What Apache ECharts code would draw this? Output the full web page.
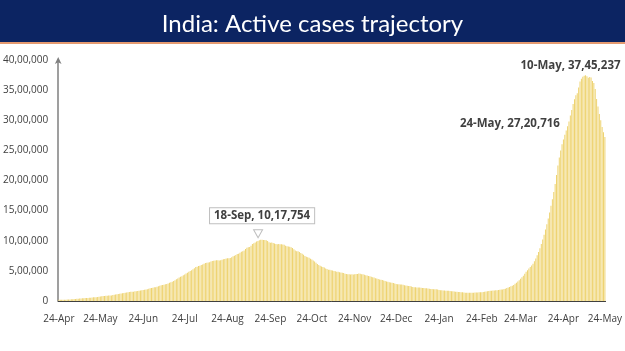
<!DOCTYPE html>
<html><head><meta charset="utf-8">
<script src="https://cdn.jsdelivr.net/npm/echarts@6/dist/echarts.min.js"></script>
<style>html,body{margin:0;padding:0;background:#fff}#c{width:625px;height:351px}</style>
</head><body><div id="c"></div>
<script>
// Active cases in thousands, daily from 24-Apr-2020 to 24-May-2021
const startDate = '2020-04-24';
const apr2020 = [19, 20, 21, 21, 21, 22, 23];
const may2020 = [24, 26, 28, 30, 32, 34, 36, 38, 40, 42, 44, 46, 48, 49, 51, 53, 56, 59, 61, 61, 64, 66, 70, 74, 77, 81, 83, 86, 89, 90, 92];
const jun2020 = [93, 98, 102, 107, 110, 116, 120, 125, 130, 134, 137, 142, 146, 149, 153, 153, 155, 160, 163, 168, 170, 174, 178, 183, 187, 190, 197, 203, 210, 215];
const jul2020 = [220, 227, 227, 235, 245, 253, 260, 265, 270, 277, 283, 292, 302, 312, 320, 331, 343, 359, 373, 391, 403, 411, 426, 440, 456, 468, 485, 497, 509, 528, 545];
const aug2020 = [565, 568, 579, 586, 596, 607, 619, 629, 635, 640, 644, 654, 662, 668, 673, 677, 677, 673, 677, 686, 692, 697, 704, 708, 711, 715, 726, 742, 752, 765, 781];
const sep2020 = [786, 801, 816, 826, 839, 862, 884, 891, 897, 919, 944, 958, 970, 987, 996, 1010, 1016, 1017.754, 1011, 1014, 1009, 997, 976, 966, 970, 961, 956, 948, 940, 946];
const oct2020 = [942, 941, 938, 934, 919, 908, 904, 899, 894, 878, 860, 838, 826, 826, 812, 795, 783, 767, 748, 735, 726, 716, 703, 690, 672, 655, 635, 615, 598, 585, 572];
const nov2020 = [565, 557, 541, 533, 520, 517, 509, 506, 500, 494, 486, 484, 479, 474, 470, 466, 454, 449, 446, 443, 441, 443, 440, 444, 447, 450, 455, 453, 446, 442];
const dec2020 = [435, 428, 422, 416, 409, 404, 396, 390, 378, 372, 365, 358, 352, 347, 339, 333, 323, 318, 313, 308, 303, 297, 289, 281, 278, 276, 275, 272, 268, 262, 257];
const jan2021 = [254, 250, 247, 240, 233, 229, 228, 226, 224, 222, 220, 217, 215, 213, 212, 208, 205, 201, 198, 197, 195, 193, 189, 184, 179, 178, 176, 173, 171, 170, 169];
const feb2021 = [168, 162, 160, 158, 155, 152, 151, 148, 146, 144, 143, 137, 136, 137, 138, 138, 138, 139, 140, 141, 143, 145, 146, 147, 150, 153, 157, 162];
const mar2021 = [168, 170, 172, 174, 176, 177, 180, 184, 187, 189, 192, 198, 205, 215, 223, 234, 244, 253, 267, 285, 304, 323, 345, 368, 395, 421, 453, 484, 510, 540, 565];
const apr2021 = [590, 620, 660, 705, 760, 815, 875, 945, 1020, 1100, 1185, 1275, 1370, 1470, 1580, 1690, 1810, 1940, 2090, 2250, 2380, 2500, 2600, 2682, 2760, 2830, 2900, 2980, 3080, 3170];
const may2021 = [3268, 3349, 3413, 3447, 3545, 3645, 3690, 3723, 3737, 3745.237, 3729, 3704, 3718, 3710, 3653, 3618, 3519, 3353, 3229, 3102, 3000, 2890, 2800, 2720.716];

const tickDates = ['2020-04-24','2020-05-24','2020-06-24','2020-07-24','2020-08-24','2020-09-24','2020-10-24','2020-11-24','2020-12-24','2021-01-24','2021-02-24','2021-03-24','2021-04-24','2021-05-24'];
const tickLabels = ['24-Apr','24-May','24-Jun','24-Jul','24-Aug','24-Sep','24-Oct','24-Nov','24-Dec','24-Jan','24-Feb','24-Mar','24-Apr','24-May'];

const annDates = ['2020-09-18', '2021-05-10', '2021-05-24'];
const annValues = [1017754, 3745237, 2720716];
const annLabels = ['18-Sep', '10-May', '24-May'];

const yTicks = [0, 500000, 1000000, 1500000, 2000000, 2500000, 3000000, 3500000, 4000000];

// ---- build
const valuesK = [].concat(apr2020, may2020, jun2020, jul2020, aug2020, sep2020, oct2020, nov2020, dec2020, jan2021, feb2021, mar2021, apr2021, may2021);
const values = valuesK.map(v => Math.round(v * 1000));
const categories = [];
{
  const d0 = new Date(startDate + 'T00:00:00Z');
  for (let i = 0; i < values.length; i++) {
    const d = new Date(d0.getTime() + i * 86400000);
    categories.push(d.toISOString().slice(0, 10));
  }
}
function inr(n) {
  const s = String(Math.round(n));
  if (s.length <= 3) return s;
  const last3 = s.slice(-3);
  const rest = s.slice(0, -3).replace(/\B(?=(\d{2})+(?!\d))/g, ',');
  return rest + ',' + last3;
}
const tickSet = new Set(tickDates);
const FONT = 'Open Sans';

const chart = echarts.init(document.getElementById('c'), null, {renderer: 'canvas'});
chart.setOption({
  animation: false,
  backgroundColor: '#ffffff',
  title: {
    text: 'India: Active cases trajectory',
    left: 'center', top: 7,
    textStyle: {color: '#ffffff', fontFamily: 'Lato', fontWeight: 'normal', fontSize: 24}
  },
  graphic: [
    {type: 'rect', left: 0, top: 0, z: -1, shape: {width: 625, height: 42}, style: {fill: '#0c2462'}},
    {type: 'rect', left: 0, top: 42, z: -1, shape: {width: 625, height: 2}, style: {fill: '#e49a70'}}
  ],
  grid: {left: 56, right: 15, top: 60, bottom: 50, containLabel: false},
  xAxis: {
    type: 'category',
    data: categories,
    boundaryGap: true,
    axisLine: {lineStyle: {color: '#404040', width: 1}},
    axisTick: {
      alignWithLabel: true, length: 4, lineStyle: {color: '#404040'},
      interval: (i, v) => tickSet.has(v)
    },
    axisLabel: {
      interval: (i, v) => tickSet.has(v),
      formatter: v => tickLabels[tickDates.indexOf(v)],
      color: '#404040', fontFamily: FONT, fontSize: 10, margin: 13
    },
    splitLine: {show: false}
  },
  yAxis: {
    type: 'value',
    min: yTicks[0], max: yTicks[yTicks.length - 1], interval: 500000,
    axisLine: {show: true, lineStyle: {color: '#7f7f7f', width: 1.5}, symbol: ['none', 'arrow'], symbolSize: [5, 7], symbolOffset: [0, 3]},
    axisTick: {show: false},
    splitLine: {show: false},
    axisLabel: {formatter: v => inr(v), color: '#404040', fontFamily: FONT, fontSize: 10, margin: 10}
  },
  series: [{
    type: 'bar',
    data: values,
    barCategoryGap: '35%',
    itemStyle: {color: '#eed370'},
    markPoint: {
      silent: true,
      data: [
        {
          coord: [annDates[0], annValues[0]],
          symbol: 'triangle', symbolRotate: 180, symbolSize: [9, 8], symbolOffset: [-4, -6],
          itemStyle: {color: '#ffffff', borderColor: '#bfbfbf', borderWidth: 1},
          label: {
            show: true, position: 'inside', offset: [4, -18],
            formatter: annLabels[0] + ', ' + inr(annValues[0]),
            color: '#404040', fontWeight: 'bold', fontFamily: FONT, fontSize: 11.5,
            backgroundColor: '#ffffff', borderColor: '#bfbfbf', borderWidth: 1, padding: [2, 4, 1, 4]
          }
        },
        {
          coord: [annDates[1], annValues[1]],
          symbol: 'circle', symbolSize: 0,
          label: {
            show: true, position: 'inside', offset: [-15, -10],
            formatter: annLabels[1] + ', ' + inr(annValues[1]),
            color: '#404040', fontWeight: 'bold', fontFamily: FONT, fontSize: 11.5
          }
        },
        {
          coord: [annDates[2], annValues[2]],
          symbol: 'circle', symbolSize: 0,
          label: {
            show: true, position: 'inside', offset: [-95, -13],
            formatter: annLabels[2] + ', ' + inr(annValues[2]),
            color: '#404040', fontWeight: 'bold', fontFamily: FONT, fontSize: 11.5
          }
        }
      ]
    }
  }]
});
</script>
</body></html>
